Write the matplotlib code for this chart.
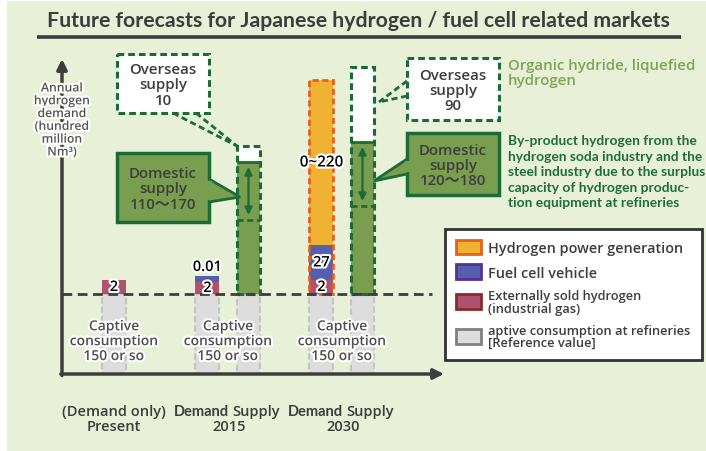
import numpy as np
import matplotlib
matplotlib.use('Agg')
import matplotlib.pyplot as plt
from matplotlib.patches import Rectangle, Polygon, Patch
import matplotlib.patheffects as pe

plt.rcParams['font.family'] = ['Open Sans', 'Noto Sans CJK JP', 'DejaVu Sans']
NARROW = ['Lato', 'Noto Sans', 'DejaVu Sans']
SEMI = 'semibold'

# bars from left to right
bar_names = ['Present demand', '2015 demand', '2015 supply', '2030 demand', '2030 supply']
bar_group = [0, 1, 1, 2, 2]
# drawn heights of the segments (the picture is not to scale)
captive = [80, 80, 80, 80, 80]
external = [14, 12, 0, 14, 0]
fcv = [0, 6, 0, 35, 0]
power = [0, 0, 0, 165, 0]
domestic = [0, 0, 132, 0, 152]
overseas = [0, 0, 16, 0, 75]
domestic_low = [0, 0, 74, 0, 88]

external_lbl = ['2', '2', '', '2', '']
fcv_lbl = ['', '0.01', '', '27', '']
power_lbl = ['', '', '', '0~220', '']
group_names = ['Present', '2015', '2030']
captive_lbl = 'Captive\nconsumption\n150 or so'

callouts = [('Overseas\nsupply\n10', 'over'), ('Domestic\nsupply\n110〜170', 'dom'),
            ('Overseas\nsupply\n90', 'over'), ('Domestic\nsupply\n120〜180', 'dom')]

BG = '#e8f0d7'
GREEN = '#7a9e4f'
DKGREEN = '#1b6b36'
ORANGE, ORANGE_E = '#f0b232', '#e8601c'
BLUE, BLUE_E = '#5460ae', '#5b2f96'
RED, RED_E = '#b0516f', '#8a2b2b'
GREY, GREY_E = '#dddddd', '#c4c4c4'
DARK = '#3d3d3d'

W, H = 706, 452
fig = plt.figure(figsize=(W / 100, H / 100), dpi=100)
fig.patch.set_facecolor('white')
fig.patches.append(Rectangle((7 / W, 0), 1, 1 - 2 / H, transform=fig.transFigure,
                             fc=BG, ec='none', zorder=-10))


def fig_rect(x0, y0, x1, y1):
    return [x0 / W, 1 - y1 / H, (x1 - x0) / W, (y1 - y0) / H]


# overlay in pixel coordinates for the drawing furniture
ov = fig.add_axes([0, 0, 1, 1], zorder=2)
ov.set_xlim(0, W)
ov.set_ylim(H, 0)
ov.axis('off')
ov.patch.set_alpha(0)

# bar axes
ax = fig.add_axes(fig_rect(62, 55, 440, 375), zorder=1)
ax.set_xlim(-0.456, 2.86)
ax.set_ylim(0, 320)
ax.axis('off')
ax.patch.set_alpha(0)

off = np.array([0, -0.18, 0.18, -0.18, 0.18])
x = np.array(bar_group) + off
w = 0.21
captive = np.array(captive)
external = np.array(external)
fcv = np.array(fcv)
power = np.array(power)
domestic = np.array(domestic)
overseas = np.array(overseas)
domestic_low = np.array(domestic_low)

ax.bar(x, captive, w, color=GREY, edgecolor=GREY_E, linestyle=(0, (3, 1.5)), lw=1.5)
b1 = captive
ax.bar(x, external, w, bottom=b1, color=RED, lw=0)
b2 = b1 + external
ax.bar(x, fcv, w, bottom=b2, color=BLUE, lw=0)
b3 = b2 + fcv
ax.bar(x, power, w, bottom=b3, color=ORANGE, lw=0)
ax.bar(x, domestic, w, bottom=b1, color=GREEN, lw=0)
ax.bar(x, overseas, w, bottom=b1 + domestic, color='white', lw=0)

sup = domestic > 0
dem = power > 0
ax.bar(x[dem], (b3 + power - b1)[dem], w, bottom=b1[dem], fill=False,
       edgecolor=ORANGE_E, linestyle=(0, (2.2, 1.3)), lw=2)
ax.bar(x[sup], (domestic + overseas)[sup], w, bottom=b1[sup], fill=False,
       edgecolor=DKGREEN, linestyle=(0, (2.2, 1.3)), lw=2.2)
ax.hlines((b1 + domestic)[sup], x[sup] - w / 2, x[sup] + w / 2, color=DKGREEN, lw=2)
ax.hlines((b1 + domestic_low)[sup], x[sup] - w / 2, x[sup] + w / 2, color=DKGREEN,
          lw=2, linestyle=(0, (2.2, 1.3)))
for xi, lo, hi in zip(x[sup], (b1 + domestic_low)[sup], (b1 + domestic)[sup]):
    ax.annotate('', xy=(xi, hi - 5), xytext=(xi, lo + 5),
                arrowprops=dict(arrowstyle='<|-|>', color=DKGREEN, lw=1.6,
                                mutation_scale=11, shrinkA=0, shrinkB=0))

# baseline of captive consumption
ax.axhline(captive[0], xmin=0, xmax=(432 - 62) / 378, color=DARK, lw=2,
           linestyle=(0, (3.5, 2)))

halo = [pe.withStroke(linewidth=3, foreground='white')]
for i in range(len(x)):
    if external_lbl[i]:
        ax.text(x[i], b1[i] + external[i] / 2, external_lbl[i], ha='center', va='center',
                fontsize=10.5, weight=SEMI, color='black', path_effects=halo, zorder=5)
    if fcv_lbl[i]:
        yy = b2[i] + fcv[i] / 2 if fcv[i] > 15 else b3[i] + 9
        ax.text(x[i], yy, fcv_lbl[i], ha='center', va='center', weight=SEMI,
                fontsize=10.5, color='black', path_effects=halo, zorder=5)
    if power_lbl[i]:
        ax.text(x[i], b3[i] + power[i] / 2, power_lbl[i], ha='center', va='center',
                fontsize=11, weight=SEMI, color='black', path_effects=halo, zorder=5)

for g in range(3):
    ax.text(g, captive[0] * 0.41, captive_lbl, ha='center', va='center', fontsize=10,
            weight=SEMI, color='#505050', linespacing=1.08, path_effects=halo, zorder=5)

# axes arrows
ov.annotate('', xy=(62, 60), xytext=(62, 376.5),
            arrowprops=dict(arrowstyle='-|>', lw=2.5, color=DARK, mutation_scale=15,
                            shrinkA=0, shrinkB=0))
ov.annotate('', xy=(444, 375), xytext=(60.8, 375),
            arrowprops=dict(arrowstyle='-|>', lw=2.5, color=DARK, mutation_scale=15,
                            shrinkA=0, shrinkB=0))
ov.text(62, 121, 'Annual\nhydrogen\ndemand\n(hundred\nmillion\nNm³)', ha='center',
        va='center', fontsize=8.8, weight=SEMI, color='#555555', linespacing=0.98,
        path_effects=halo, zorder=5)

# category labels
ov.text(114, 412, '(Demand only)', ha='center', va='center', fontsize=10.5,
        weight=SEMI, color=DARK)
ov.text(114, 427, group_names[0], ha='center', va='center', fontsize=10.5,
        weight=SEMI, color=DARK)
for cx, name in [(229, group_names[1]), (343, group_names[2])]:
    ov.text(cx - 28, 412, 'Demand', ha='center', va='center', fontsize=10.5,
            family=NARROW, weight='bold', color=DARK)
    ov.text(cx + 27, 412, 'Supply', ha='center', va='center', fontsize=10.5,
            weight=SEMI, color=DARK)
    ov.text(cx, 427, name, ha='center', va='center', fontsize=10.5, weight=SEMI,
            color=DARK)

# title
ov.text(358.5, 21, 'Future forecasts for Japanese hydrogen / fuel cell related markets',
        ha='center', va='center', fontsize=15.3, family=NARROW, weight='bold', color=DARK)
ov.plot([37, 681], [38, 38], color=DARK, lw=2.6, solid_capstyle='butt')

# callouts
boxes = [(117, 55, 209, 114), (117, 154, 209, 223), (407, 59, 499, 121), (407, 134, 499, 196)]
pointers = [[(173, 114), (237, 147), (196, 114)],
            [(209, 180), (240, 198), (209, 203)],
            [(407, 82), (379, 103), (407, 97)],
            [(407, 160), (374, 182), (407, 175)]]
for (txt, kind), (x0, y0, x1, y1), pts in zip(callouts, boxes, pointers):
    if kind == 'over':
        ov.add_patch(Rectangle((x0, y0), x1 - x0, y1 - y0, fc='white', ec=DKGREEN,
                               lw=2.2, linestyle=(0, (2.2, 1.3))))
        for p in (pts[0], pts[2]):
            ov.plot([p[0], pts[1][0]], [p[1], pts[1][1]], color=DKGREEN, lw=2,
                    linestyle=(0, (2.2, 1.3)))
    else:
        ov.add_patch(Rectangle((x0, y0), x1 - x0, y1 - y0, fc=GREEN, ec=DKGREEN, lw=2.5))
        ov.add_patch(Polygon(pts, closed=False, fc=GREEN, ec=DKGREEN, lw=2))
        ya, yb = sorted([pts[0][1], pts[2][1]])
        ov.add_patch(Rectangle((pts[0][0] - 2.5, ya + 2), 5, yb - ya - 4,
                               fc=GREEN, ec='none'))
    ov.text((x0 + x1) / 2, (y0 + y1) / 2 + 1, txt, ha='center', va='center',
            fontsize=10.8, weight=SEMI, color=DARK, linespacing=1.12)

ov.text(508, 73.5, 'Organic hydride, liquefied\nhydrogen', ha='left', va='center',
        fontsize=10.8, weight=SEMI, color='#7ea552', linespacing=1.05)
ov.text(508, 172.5, 'By-product hydrogen from the\nhydrogen soda industry and the\n'
        'steel industry due to the surplus\ncapacity of hydrogen produc-\n'
        'tion equipment at refineries', ha='left', va='center', fontsize=9.9,
        family=NARROW, weight='bold', color='#1f6e3a', linespacing=1.35)

# legend
handles = [Patch(fc=ORANGE, ec=ORANGE_E, lw=2), Patch(fc=BLUE, ec=BLUE_E, lw=2),
           Patch(fc=RED, ec=RED_E, lw=2), Patch(fc=GREY, ec='#808080', lw=2)]
labels = ['Hydrogen power generation', 'Fuel cell vehicle',
          'Externally sold hydrogen\n(industrial gas)',
          'aptive consumption at refineries\n[Reference value]']
leg = fig.legend(handles, labels, loc='upper left',
                 bbox_to_anchor=(445 / W, 1 - 357 / H, 257 / W, 127 / H), mode='expand',
                 fontsize=11, frameon=True, fancybox=False, framealpha=1,
                 edgecolor='#333333', handlelength=1.65, handleheight=1.1,
                 handletextpad=0.45, borderpad=0.7, labelspacing=0.6, borderaxespad=0)
leg.get_frame().set_linewidth(2)
for t in leg.get_texts():
    t.set_color(DARK)
    t.set_fontweight(SEMI)
for t in leg.get_texts()[:2]:
    t.set_fontsize(10.4)
for t in leg.get_texts()[2:]:
    t.set_fontsize(9.3)
    t.set_linespacing(0.95)

fig.savefig('out.png', dpi=100)
